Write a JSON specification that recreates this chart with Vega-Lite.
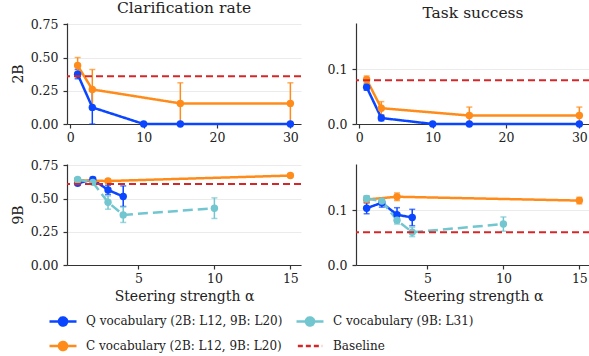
{
  "$schema": "https://vega.github.io/schema/vega-lite/v6.json",
  "background": "white",
  "padding": {"left": 11, "top": 0, "right": 0, "bottom": 0},
  "datasets": {
    "series": [
      {"model": "2B", "metric": "Clarification rate", "series": "Q vocabulary (2B: L12, 9B: L20)", "alpha": 1, "value": 0.375, "lo": 0.34, "hi": 0.41},
      {"model": "2B", "metric": "Clarification rate", "series": "Q vocabulary (2B: L12, 9B: L20)", "alpha": 3, "value": 0.125, "lo": 0.0, "hi": 0.25},
      {"model": "2B", "metric": "Clarification rate", "series": "Q vocabulary (2B: L12, 9B: L20)", "alpha": 10, "value": 0.0, "lo": 0.0, "hi": 0.0},
      {"model": "2B", "metric": "Clarification rate", "series": "Q vocabulary (2B: L12, 9B: L20)", "alpha": 15, "value": 0.0, "lo": 0.0, "hi": 0.0},
      {"model": "2B", "metric": "Clarification rate", "series": "Q vocabulary (2B: L12, 9B: L20)", "alpha": 30, "value": 0.0, "lo": 0.0, "hi": 0.0},
      {"model": "2B", "metric": "Clarification rate", "series": "C vocabulary (2B: L12, 9B: L20)", "alpha": 1, "value": 0.44, "lo": 0.39, "hi": 0.5},
      {"model": "2B", "metric": "Clarification rate", "series": "C vocabulary (2B: L12, 9B: L20)", "alpha": 3, "value": 0.26, "lo": 0.11, "hi": 0.41},
      {"model": "2B", "metric": "Clarification rate", "series": "C vocabulary (2B: L12, 9B: L20)", "alpha": 15, "value": 0.155, "lo": 0.0, "hi": 0.31},
      {"model": "2B", "metric": "Clarification rate", "series": "C vocabulary (2B: L12, 9B: L20)", "alpha": 30, "value": 0.155, "lo": 0.0, "hi": 0.31},
      {"model": "2B", "metric": "Task success", "series": "Q vocabulary (2B: L12, 9B: L20)", "alpha": 1, "value": 0.0675, "lo": 0.062, "hi": 0.073},
      {"model": "2B", "metric": "Task success", "series": "Q vocabulary (2B: L12, 9B: L20)", "alpha": 3, "value": 0.011, "lo": 0.006, "hi": 0.016},
      {"model": "2B", "metric": "Task success", "series": "Q vocabulary (2B: L12, 9B: L20)", "alpha": 10, "value": 0.0, "lo": 0.0, "hi": 0.0},
      {"model": "2B", "metric": "Task success", "series": "Q vocabulary (2B: L12, 9B: L20)", "alpha": 15, "value": 0.0, "lo": 0.0, "hi": 0.0},
      {"model": "2B", "metric": "Task success", "series": "Q vocabulary (2B: L12, 9B: L20)", "alpha": 30, "value": 0.0, "lo": 0.0, "hi": 0.0},
      {"model": "2B", "metric": "Task success", "series": "C vocabulary (2B: L12, 9B: L20)", "alpha": 1, "value": 0.0815, "lo": 0.075, "hi": 0.088},
      {"model": "2B", "metric": "Task success", "series": "C vocabulary (2B: L12, 9B: L20)", "alpha": 3, "value": 0.029, "lo": 0.017, "hi": 0.041},
      {"model": "2B", "metric": "Task success", "series": "C vocabulary (2B: L12, 9B: L20)", "alpha": 15, "value": 0.0155, "lo": 0.0, "hi": 0.031},
      {"model": "2B", "metric": "Task success", "series": "C vocabulary (2B: L12, 9B: L20)", "alpha": 30, "value": 0.0155, "lo": 0.0, "hi": 0.031},
      {"model": "9B", "metric": "Clarification rate", "series": "Q vocabulary (2B: L12, 9B: L20)", "alpha": 1, "value": 0.615, "lo": 0.6, "hi": 0.63},
      {"model": "9B", "metric": "Clarification rate", "series": "Q vocabulary (2B: L12, 9B: L20)", "alpha": 2, "value": 0.643, "lo": 0.625, "hi": 0.66},
      {"model": "9B", "metric": "Clarification rate", "series": "Q vocabulary (2B: L12, 9B: L20)", "alpha": 3, "value": 0.565, "lo": 0.53, "hi": 0.6},
      {"model": "9B", "metric": "Clarification rate", "series": "Q vocabulary (2B: L12, 9B: L20)", "alpha": 4, "value": 0.515, "lo": 0.44, "hi": 0.595},
      {"model": "9B", "metric": "Clarification rate", "series": "C vocabulary (2B: L12, 9B: L20)", "alpha": 1, "value": 0.638, "lo": 0.625, "hi": 0.65},
      {"model": "9B", "metric": "Clarification rate", "series": "C vocabulary (2B: L12, 9B: L20)", "alpha": 3, "value": 0.632, "lo": 0.62, "hi": 0.645},
      {"model": "9B", "metric": "Clarification rate", "series": "C vocabulary (2B: L12, 9B: L20)", "alpha": 15, "value": 0.673, "lo": 0.66, "hi": 0.686},
      {"model": "9B", "metric": "Clarification rate", "series": "C vocabulary (9B: L31)", "alpha": 1, "value": 0.643, "lo": 0.63, "hi": 0.656},
      {"model": "9B", "metric": "Clarification rate", "series": "C vocabulary (9B: L31)", "alpha": 2, "value": 0.622, "lo": 0.61, "hi": 0.635},
      {"model": "9B", "metric": "Clarification rate", "series": "C vocabulary (9B: L31)", "alpha": 3, "value": 0.472, "lo": 0.42, "hi": 0.52},
      {"model": "9B", "metric": "Clarification rate", "series": "C vocabulary (9B: L31)", "alpha": 4, "value": 0.377, "lo": 0.32, "hi": 0.44},
      {"model": "9B", "metric": "Clarification rate", "series": "C vocabulary (9B: L31)", "alpha": 10, "value": 0.427, "lo": 0.35, "hi": 0.505},
      {"model": "9B", "metric": "Task success", "series": "Q vocabulary (2B: L12, 9B: L20)", "alpha": 1, "value": 0.104, "lo": 0.094, "hi": 0.114},
      {"model": "9B", "metric": "Task success", "series": "Q vocabulary (2B: L12, 9B: L20)", "alpha": 2, "value": 0.114, "lo": 0.106, "hi": 0.122},
      {"model": "9B", "metric": "Task success", "series": "Q vocabulary (2B: L12, 9B: L20)", "alpha": 3, "value": 0.092, "lo": 0.078, "hi": 0.105},
      {"model": "9B", "metric": "Task success", "series": "Q vocabulary (2B: L12, 9B: L20)", "alpha": 4, "value": 0.087, "lo": 0.072, "hi": 0.102},
      {"model": "9B", "metric": "Task success", "series": "C vocabulary (2B: L12, 9B: L20)", "alpha": 1, "value": 0.12, "lo": 0.114, "hi": 0.126},
      {"model": "9B", "metric": "Task success", "series": "C vocabulary (2B: L12, 9B: L20)", "alpha": 3, "value": 0.125, "lo": 0.118, "hi": 0.132},
      {"model": "9B", "metric": "Task success", "series": "C vocabulary (2B: L12, 9B: L20)", "alpha": 15, "value": 0.118, "lo": 0.112, "hi": 0.124},
      {"model": "9B", "metric": "Task success", "series": "C vocabulary (9B: L31)", "alpha": 1, "value": 0.122, "lo": 0.117, "hi": 0.127},
      {"model": "9B", "metric": "Task success", "series": "C vocabulary (9B: L31)", "alpha": 2, "value": 0.117, "lo": 0.111, "hi": 0.123},
      {"model": "9B", "metric": "Task success", "series": "C vocabulary (9B: L31)", "alpha": 3, "value": 0.082, "lo": 0.075, "hi": 0.089},
      {"model": "9B", "metric": "Task success", "series": "C vocabulary (9B: L31)", "alpha": 4, "value": 0.06, "lo": 0.052, "hi": 0.069},
      {"model": "9B", "metric": "Task success", "series": "C vocabulary (9B: L31)", "alpha": 10, "value": 0.075, "lo": 0.062, "hi": 0.088}
    ],
    "baseline": [
      {"model": "2B", "metric": "Clarification rate", "series": "Baseline", "value": 0.36},
      {"model": "2B", "metric": "Task success", "series": "Baseline", "value": 0.08},
      {"model": "9B", "metric": "Clarification rate", "series": "Baseline", "value": 0.61},
      {"model": "9B", "metric": "Task success", "series": "Baseline", "value": 0.06}
    ]
  },
  "bounds": "flush",
  "columns": 2,
  "spacing": {"row": 40, "column": 55},
  "concat": [
    {
      "title": "Clarification rate",
      "width": 234, "height": 101,
      "layer": [
        {
          "data": {"name": "series"},
          "transform": [{"filter": "datum.model === '2B' && datum.metric === 'Clarification rate'"}],
          "layer": [
            {"mark": {"type": "errorbar", "ticks": {"size": 6}, "thickness": 1.5},
             "encoding": {
               "x": {"field": "alpha", "type": "quantitative", "scale": {"domain": [-0.45, 31.45], "nice": false, "zero": false}, "axis": {"values": [0, 10, 20, 30], "title": null, "labelFont": "DejaVu Serif"}},
               "y": {"field": "lo", "type": "quantitative", "scale": {"domain": [0, 0.76], "nice": false}, "axis": {"values": [0, 0.25, 0.5, 0.75], "format": ".2f", "title": "2B", "labelFont": "DejaVu Serif", "titleFont": "DejaVu Serif"}},
               "y2": {"field": "hi"},
               "color": {"field": "series", "type": "nominal",
                 "scale": {"domain": ["Q vocabulary (2B: L12, 9B: L20)", "C vocabulary (2B: L12, 9B: L20)", "C vocabulary (9B: L31)", "Baseline"], "range": ["#0a45ff", "#ff8c1a", "#72c6cf", "#d62728"]},
                 "legend": {
                   "orient": "none", "legendX": -19, "legendY": 283, "columns": 2, "title": null,
                   "columnPadding": 8, "rowPadding": -21, "labelOffset": 8,
                   "labelFont": "DejaVu Serif", "labelFontSize": 12, "labelColor": "#222", "labelLimit": 400,
                   "symbolType": "M-1,0L1,0M0.3,0A0.3,0.3,0,1,1,-0.3,0A0.3,0.3,0,1,1,0.3,0Z",
                   "symbolSize": 729, "symbolStrokeWidth": 2.5, "symbolOpacity": 1,
                   "encode": {"symbols": {"update": {
                     "shape": [{"test": "datum.value === 'Baseline'", "value": "M-0.9,0L0.9,0"}, {"value": "M-1,0L1,0M0.3,0A0.3,0.3,0,1,1,-0.3,0A0.3,0.3,0,1,1,0.3,0Z"}],
                     "strokeDash": [{"test": "datum.value === 'Baseline'", "value": [5, 3]}, {"value": [1, 0]}],
                     "fill": {"scale": "color", "field": "value"},
                     "stroke": {"scale": "color", "field": "value"},
                     "strokeWidth": {"value": 2.5}
                   }}}
                 }}
             }},
            {"mark": {"type": "line", "strokeWidth": 2.5},
             "encoding": {
               "x": {"field": "alpha", "type": "quantitative", "axis": {"values": [0, 10, 20, 30], "title": null, "labelFont": "DejaVu Serif"}},
               "y": {"field": "value", "type": "quantitative", "axis": {"values": [0, 0.25, 0.5, 0.75], "format": ".2f", "title": "2B", "labelFont": "DejaVu Serif", "titleFont": "DejaVu Serif"}},
               "color": {"field": "series", "type": "nominal", "scale": {"domain": ["Q vocabulary (2B: L12, 9B: L20)", "C vocabulary (2B: L12, 9B: L20)", "C vocabulary (9B: L31)", "Baseline"], "range": ["#0a45ff", "#ff8c1a", "#72c6cf", "#d62728"]}},
               "strokeDash": {"field": "series", "type": "nominal", "scale": {"domain": ["Q vocabulary (2B: L12, 9B: L20)", "C vocabulary (2B: L12, 9B: L20)", "C vocabulary (9B: L31)"], "range": [[1, 0], [1, 0], [10, 5]]}, "legend": null}
             }},
            {"mark": {"type": "point", "filled": true, "size": 55, "opacity": 1},
             "encoding": {
               "x": {"field": "alpha", "type": "quantitative", "axis": {"values": [0, 10, 20, 30], "title": null, "labelFont": "DejaVu Serif"}},
               "y": {"field": "value", "type": "quantitative", "axis": {"values": [0, 0.25, 0.5, 0.75], "format": ".2f", "title": "2B", "labelFont": "DejaVu Serif", "titleFont": "DejaVu Serif"}},
               "color": {"field": "series", "type": "nominal", "scale": {"domain": ["Q vocabulary (2B: L12, 9B: L20)", "C vocabulary (2B: L12, 9B: L20)", "C vocabulary (9B: L31)", "Baseline"], "range": ["#0a45ff", "#ff8c1a", "#72c6cf", "#d62728"]}}
             }}
          ]
        },
        {
          "data": {"name": "baseline"},
          "transform": [{"filter": "datum.model === '2B' && datum.metric === 'Clarification rate'"}],
          "mark": {"type": "rule", "strokeDash": [7, 4], "strokeWidth": 2},
          "encoding": {
            "y": {"field": "value", "type": "quantitative", "axis": {"values": [0, 0.25, 0.5, 0.75], "format": ".2f", "title": "2B", "labelFont": "DejaVu Serif", "titleFont": "DejaVu Serif"}},
            "color": {"field": "series", "type": "nominal", "scale": {"domain": ["Q vocabulary (2B: L12, 9B: L20)", "C vocabulary (2B: L12, 9B: L20)", "C vocabulary (9B: L31)", "Baseline"], "range": ["#0a45ff", "#ff8c1a", "#72c6cf", "#d62728"]}}
          }
        }
      ]
    },
    {
      "title": "Task success",
      "width": 234, "height": 101,
      "layer": [
        {
          "data": {"name": "series"},
          "transform": [{"filter": "datum.model === '2B' && datum.metric === 'Task success'"}],
          "layer": [
            {"mark": {"type": "errorbar", "ticks": {"size": 6}, "thickness": 1.5},
             "encoding": {
               "x": {"field": "alpha", "type": "quantitative", "scale": {"domain": [-0.45, 31.45], "nice": false, "zero": false}, "axis": {"values": [0, 10, 20, 30], "title": null, "labelFont": "DejaVu Serif"}},
               "y": {"field": "lo", "type": "quantitative", "scale": {"domain": [0, 0.185], "nice": false}, "axis": {"values": [0, 0.1], "format": ".1f", "title": null, "labelFont": "DejaVu Serif"}},
               "y2": {"field": "hi"},
               "color": {"field": "series", "type": "nominal", "scale": {"domain": ["Q vocabulary (2B: L12, 9B: L20)", "C vocabulary (2B: L12, 9B: L20)", "C vocabulary (9B: L31)", "Baseline"], "range": ["#0a45ff", "#ff8c1a", "#72c6cf", "#d62728"]}}
             }},
            {"mark": {"type": "line", "strokeWidth": 2.5},
             "encoding": {
               "x": {"field": "alpha", "type": "quantitative", "axis": {"values": [0, 10, 20, 30], "title": null, "labelFont": "DejaVu Serif"}},
               "y": {"field": "value", "type": "quantitative", "axis": {"values": [0, 0.1], "format": ".1f", "title": null, "labelFont": "DejaVu Serif"}},
               "color": {"field": "series", "type": "nominal", "scale": {"domain": ["Q vocabulary (2B: L12, 9B: L20)", "C vocabulary (2B: L12, 9B: L20)", "C vocabulary (9B: L31)", "Baseline"], "range": ["#0a45ff", "#ff8c1a", "#72c6cf", "#d62728"]}},
               "strokeDash": {"field": "series", "type": "nominal", "scale": {"domain": ["Q vocabulary (2B: L12, 9B: L20)", "C vocabulary (2B: L12, 9B: L20)", "C vocabulary (9B: L31)"], "range": [[1, 0], [1, 0], [10, 5]]}, "legend": null}
             }},
            {"mark": {"type": "point", "filled": true, "size": 55, "opacity": 1},
             "encoding": {
               "x": {"field": "alpha", "type": "quantitative", "axis": {"values": [0, 10, 20, 30], "title": null, "labelFont": "DejaVu Serif"}},
               "y": {"field": "value", "type": "quantitative", "axis": {"values": [0, 0.1], "format": ".1f", "title": null, "labelFont": "DejaVu Serif"}},
               "color": {"field": "series", "type": "nominal", "scale": {"domain": ["Q vocabulary (2B: L12, 9B: L20)", "C vocabulary (2B: L12, 9B: L20)", "C vocabulary (9B: L31)", "Baseline"], "range": ["#0a45ff", "#ff8c1a", "#72c6cf", "#d62728"]}}
             }}
          ]
        },
        {
          "data": {"name": "baseline"},
          "transform": [{"filter": "datum.model === '2B' && datum.metric === 'Task success'"}],
          "mark": {"type": "rule", "strokeDash": [7, 4], "strokeWidth": 2},
          "encoding": {
            "y": {"field": "value", "type": "quantitative", "axis": {"values": [0, 0.1], "format": ".1f", "title": null, "labelFont": "DejaVu Serif"}},
            "color": {"field": "series", "type": "nominal", "scale": {"domain": ["Q vocabulary (2B: L12, 9B: L20)", "C vocabulary (2B: L12, 9B: L20)", "C vocabulary (9B: L31)", "Baseline"], "range": ["#0a45ff", "#ff8c1a", "#72c6cf", "#d62728"]}}
          }
        }
      ]
    },
    {
      "width": 234, "height": 101,
      "layer": [
        {
          "data": {"name": "series"},
          "transform": [{"filter": "datum.model === '9B' && datum.metric === 'Clarification rate'"}],
          "layer": [
            {"mark": {"type": "errorbar", "ticks": {"size": 6}, "thickness": 1.5},
             "encoding": {
               "x": {"field": "alpha", "type": "quantitative", "scale": {"domain": [0.3, 15.7], "nice": false, "zero": false}, "axis": {"values": [5, 10, 15], "title": "Steering strength α", "labelFont": "DejaVu Serif", "titleFont": "DejaVu Serif"}},
               "y": {"field": "lo", "type": "quantitative", "scale": {"domain": [0, 0.76], "nice": false}, "axis": {"values": [0, 0.25, 0.5, 0.75], "format": ".2f", "title": "9B", "labelFont": "DejaVu Serif", "titleFont": "DejaVu Serif"}},
               "y2": {"field": "hi"},
               "color": {"field": "series", "type": "nominal", "scale": {"domain": ["Q vocabulary (2B: L12, 9B: L20)", "C vocabulary (2B: L12, 9B: L20)", "C vocabulary (9B: L31)", "Baseline"], "range": ["#0a45ff", "#ff8c1a", "#72c6cf", "#d62728"]}}
             }},
            {"mark": {"type": "line", "strokeWidth": 2.5},
             "encoding": {
               "x": {"field": "alpha", "type": "quantitative", "axis": {"values": [5, 10, 15], "title": "Steering strength α", "labelFont": "DejaVu Serif", "titleFont": "DejaVu Serif"}},
               "y": {"field": "value", "type": "quantitative", "axis": {"values": [0, 0.25, 0.5, 0.75], "format": ".2f", "title": "9B", "labelFont": "DejaVu Serif", "titleFont": "DejaVu Serif"}},
               "color": {"field": "series", "type": "nominal", "scale": {"domain": ["Q vocabulary (2B: L12, 9B: L20)", "C vocabulary (2B: L12, 9B: L20)", "C vocabulary (9B: L31)", "Baseline"], "range": ["#0a45ff", "#ff8c1a", "#72c6cf", "#d62728"]}},
               "strokeDash": {"field": "series", "type": "nominal", "scale": {"domain": ["Q vocabulary (2B: L12, 9B: L20)", "C vocabulary (2B: L12, 9B: L20)", "C vocabulary (9B: L31)"], "range": [[1, 0], [1, 0], [10, 5]]}, "legend": null}
             }},
            {"mark": {"type": "point", "filled": true, "size": 55, "opacity": 1},
             "encoding": {
               "x": {"field": "alpha", "type": "quantitative", "axis": {"values": [5, 10, 15], "title": "Steering strength α", "labelFont": "DejaVu Serif", "titleFont": "DejaVu Serif"}},
               "y": {"field": "value", "type": "quantitative", "axis": {"values": [0, 0.25, 0.5, 0.75], "format": ".2f", "title": "9B", "labelFont": "DejaVu Serif", "titleFont": "DejaVu Serif"}},
               "color": {"field": "series", "type": "nominal", "scale": {"domain": ["Q vocabulary (2B: L12, 9B: L20)", "C vocabulary (2B: L12, 9B: L20)", "C vocabulary (9B: L31)", "Baseline"], "range": ["#0a45ff", "#ff8c1a", "#72c6cf", "#d62728"]}}
             }}
          ]
        },
        {
          "data": {"name": "baseline"},
          "transform": [{"filter": "datum.model === '9B' && datum.metric === 'Clarification rate'"}],
          "mark": {"type": "rule", "strokeDash": [7, 4], "strokeWidth": 2},
          "encoding": {
            "y": {"field": "value", "type": "quantitative", "axis": {"values": [0, 0.25, 0.5, 0.75], "format": ".2f", "title": "9B", "labelFont": "DejaVu Serif", "titleFont": "DejaVu Serif"}},
            "color": {"field": "series", "type": "nominal", "scale": {"domain": ["Q vocabulary (2B: L12, 9B: L20)", "C vocabulary (2B: L12, 9B: L20)", "C vocabulary (9B: L31)", "Baseline"], "range": ["#0a45ff", "#ff8c1a", "#72c6cf", "#d62728"]}}
          }
        }
      ]
    },
    {
      "width": 234, "height": 101,
      "layer": [
        {
          "data": {"name": "series"},
          "transform": [{"filter": "datum.model === '9B' && datum.metric === 'Task success'"}],
          "layer": [
            {"mark": {"type": "errorbar", "ticks": {"size": 6}, "thickness": 1.5},
             "encoding": {
               "x": {"field": "alpha", "type": "quantitative", "scale": {"domain": [0.3, 15.7], "nice": false, "zero": false}, "axis": {"values": [5, 10, 15], "title": "Steering strength α", "labelFont": "DejaVu Serif", "titleFont": "DejaVu Serif"}},
               "y": {"field": "lo", "type": "quantitative", "scale": {"domain": [0, 0.185], "nice": false}, "axis": {"values": [0, 0.1], "format": ".1f", "title": null, "labelFont": "DejaVu Serif"}},
               "y2": {"field": "hi"},
               "color": {"field": "series", "type": "nominal", "scale": {"domain": ["Q vocabulary (2B: L12, 9B: L20)", "C vocabulary (2B: L12, 9B: L20)", "C vocabulary (9B: L31)", "Baseline"], "range": ["#0a45ff", "#ff8c1a", "#72c6cf", "#d62728"]}}
             }},
            {"mark": {"type": "line", "strokeWidth": 2.5},
             "encoding": {
               "x": {"field": "alpha", "type": "quantitative", "axis": {"values": [5, 10, 15], "title": "Steering strength α", "labelFont": "DejaVu Serif", "titleFont": "DejaVu Serif"}},
               "y": {"field": "value", "type": "quantitative", "axis": {"values": [0, 0.1], "format": ".1f", "title": null, "labelFont": "DejaVu Serif"}},
               "color": {"field": "series", "type": "nominal", "scale": {"domain": ["Q vocabulary (2B: L12, 9B: L20)", "C vocabulary (2B: L12, 9B: L20)", "C vocabulary (9B: L31)", "Baseline"], "range": ["#0a45ff", "#ff8c1a", "#72c6cf", "#d62728"]}},
               "strokeDash": {"field": "series", "type": "nominal", "scale": {"domain": ["Q vocabulary (2B: L12, 9B: L20)", "C vocabulary (2B: L12, 9B: L20)", "C vocabulary (9B: L31)"], "range": [[1, 0], [1, 0], [10, 5]]}, "legend": null}
             }},
            {"mark": {"type": "point", "filled": true, "size": 55, "opacity": 1},
             "encoding": {
               "x": {"field": "alpha", "type": "quantitative", "axis": {"values": [5, 10, 15], "title": "Steering strength α", "labelFont": "DejaVu Serif", "titleFont": "DejaVu Serif"}},
               "y": {"field": "value", "type": "quantitative", "axis": {"values": [0, 0.1], "format": ".1f", "title": null, "labelFont": "DejaVu Serif"}},
               "color": {"field": "series", "type": "nominal", "scale": {"domain": ["Q vocabulary (2B: L12, 9B: L20)", "C vocabulary (2B: L12, 9B: L20)", "C vocabulary (9B: L31)", "Baseline"], "range": ["#0a45ff", "#ff8c1a", "#72c6cf", "#d62728"]}}
             }}
          ]
        },
        {
          "data": {"name": "baseline"},
          "transform": [{"filter": "datum.model === '9B' && datum.metric === 'Task success'"}],
          "mark": {"type": "rule", "strokeDash": [7, 4], "strokeWidth": 2},
          "encoding": {
            "y": {"field": "value", "type": "quantitative", "axis": {"values": [0, 0.1], "format": ".1f", "title": null, "labelFont": "DejaVu Serif"}},
            "color": {"field": "series", "type": "nominal", "scale": {"domain": ["Q vocabulary (2B: L12, 9B: L20)", "C vocabulary (2B: L12, 9B: L20)", "C vocabulary (9B: L31)", "Baseline"], "range": ["#0a45ff", "#ff8c1a", "#72c6cf", "#d62728"]}}
          }
        }
      ]
    }
  ],
  "config": {
    "font": "DejaVu Serif",
    "view": {"stroke": null},
    "style": {
      "guide-label": {"font": "DejaVu Serif"},
      "guide-title": {"font": "DejaVu Serif"}
    },
    "axis": {
      "labelFont": "DejaVu Serif", "labelFontSize": 12.5, "labelColor": "#222",
      "titleFont": "DejaVu Serif", "titleFontSize": 14, "titleFontWeight": "normal", "titleColor": "#222",
      "domainColor": "#333", "domainWidth": 1.2, "tickColor": "#333", "tickSize": 4, "tickWidth": 1.2,
      "gridColor": "#ebebeb", "labelPadding": 3, "labelOverlap": false
    },
    "axisX": {"grid": false, "titlePadding": 5},
    "axisY": {"grid": true, "titlePadding": 5, "labelPadding": 5},
    "title": {"font": "DejaVu Serif", "fontSize": 15.5, "fontWeight": "normal", "color": "#222", "offset": 2}
  }
}
